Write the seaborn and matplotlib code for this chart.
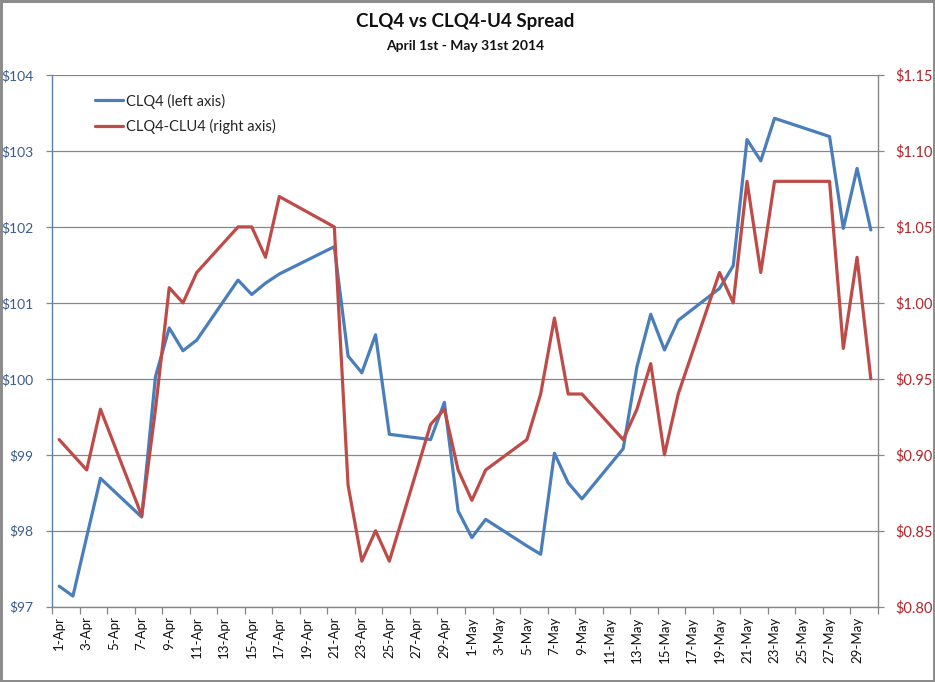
import matplotlib
matplotlib.use("Agg")
import matplotlib.pyplot as plt
import numpy as np
import pandas as pd
import seaborn as sns

# trading days, Apr 1 - May 30 2014
dates = [
    "2014-04-01", "2014-04-02", "2014-04-03", "2014-04-04", "2014-04-07",
    "2014-04-08", "2014-04-09", "2014-04-10", "2014-04-11", "2014-04-14",
    "2014-04-15", "2014-04-16", "2014-04-17", "2014-04-21", "2014-04-22",
    "2014-04-23", "2014-04-24", "2014-04-25", "2014-04-28", "2014-04-29",
    "2014-04-30", "2014-05-01", "2014-05-02", "2014-05-05", "2014-05-06",
    "2014-05-07", "2014-05-08", "2014-05-09", "2014-05-12", "2014-05-13",
    "2014-05-14", "2014-05-15", "2014-05-16", "2014-05-19", "2014-05-20",
    "2014-05-21", "2014-05-22", "2014-05-23", "2014-05-27", "2014-05-28",
    "2014-05-29", "2014-05-30",
]

clq4 = [
    97.27, 97.14, 97.92, 98.69, 98.18,
    100.03, 100.67, 100.37, 100.51, 101.30,
    101.11, 101.26, 101.38, 101.74, 100.30,
    100.08, 100.58, 99.27, 99.20, 99.69,
    98.26, 97.91, 98.15, 97.80, 97.69,
    99.02, 98.63, 98.42, 99.08, 100.16,
    100.85, 100.38, 100.77, 101.19, 101.49,
    103.15, 102.87, 103.43, 103.19, 101.98,
    102.77, 101.96,
]

spread = [
    0.91, 0.90, 0.89, 0.93, 0.86,
    0.93, 1.01, 1.00, 1.02, 1.05,
    1.05, 1.03, 1.07, 1.05, 0.88,
    0.83, 0.85, 0.83, 0.92, 0.93,
    0.89, 0.87, 0.89, 0.91, 0.94,
    0.99, 0.94, 0.94, 0.91, 0.93,
    0.96, 0.90, 0.94, 1.02, 1.00,
    1.08, 1.02, 1.08, 1.08, 0.97,
    1.03, 0.95,
]

left_ticks = [97, 98, 99, 100, 101, 102, 103, 104]
right_ticks = [0.80, 0.85, 0.90, 0.95, 1.00, 1.05, 1.10, 1.15]

BLUE = "#4a7ebb"
RED = "#be4b48"
GRID = "#878787"

start = pd.Timestamp("2014-04-01")
end = pd.Timestamp("2014-05-30")
df = pd.DataFrame({"date": pd.to_datetime(dates), "clq4": clq4, "spread": spread})
df["day"] = (df["date"] - start).dt.days
n_days = (end - start).days + 1
label_dates = pd.date_range(start, end, freq="2D")
x_labels = [f"{d.day}-{d.strftime('%b')}" for d in label_dates]

sns.set_theme(style="white")
plt.rcParams["font.family"] = ["Lato", "DejaVu Sans"]

fig = plt.figure(figsize=(9.35, 6.82), dpi=100)
fig.patch.set_edgecolor("#8c8c8c")
fig.patch.set_linewidth(2.5)
ax = fig.add_axes([52.3 / 935, 1 - 606.7 / 682, (877.7 - 52.3) / 935, (606.7 - 75) / 682])
ax2 = ax.twinx()

sns.lineplot(data=df, x="day", y="clq4", ax=ax, color=BLUE, linewidth=2.3,
             label="CLQ4 (left axis)", legend=False)
sns.lineplot(data=df, x="day", y="spread", ax=ax2, color=RED, linewidth=2.3,
             label="CLQ4-CLU4 (right axis)", legend=False)

ax.set_xlim(-0.5, n_days - 0.5)
ax.set_ylim(97, 104)
ax2.set_ylim(0.80, 1.15)
ax.set_yticks(left_ticks)
ax.set_yticklabels([f"${v}" for v in left_ticks])
ax2.set_yticks(right_ticks)
ax2.set_yticklabels([f"${v:.2f}" for v in right_ticks])
ax.yaxis.grid(True, color=GRID, linewidth=0.9)
ax.set_axisbelow(True)

ax.set_xticks((label_dates - start).days)
ax.set_xticklabels(x_labels, rotation=90, fontsize=9.5, color="#111111")
ax.set_xticks(np.arange(-0.5, n_days, 2), minor=True)
ax.tick_params(axis="x", which="major", length=0, pad=7)
ax.tick_params(axis="x", which="minor", length=5, width=0.9, color=GRID, direction="out", bottom=True)
ax.tick_params(axis="y", length=4, width=0.9, color=GRID, direction="out", pad=9.5,
               labelsize=10, labelcolor="#3b5c8c", left=True)
ax2.tick_params(axis="y", length=4, width=0.9, color=GRID, direction="out", pad=9,
                labelsize=10.5, labelcolor="#b0262a", right=True)
ax.set_xlabel("")
ax.set_ylabel("")
ax2.set_ylabel("")

for a in (ax, ax2):
    for side in ("top", "left", "right", "bottom"):
        a.spines[side].set_visible(False)
ax.spines["left"].set_visible(True)
ax.spines["left"].set_color("#5a7fb0")
ax.spines["left"].set_linewidth(1.0)
ax.spines["bottom"].set_visible(True)
ax.spines["bottom"].set_color(GRID)
ax.spines["bottom"].set_linewidth(1.0)
ax2.spines["right"].set_visible(True)
ax2.spines["right"].set_color(GRID)
ax2.spines["right"].set_linewidth(1.0)

handles = ax.get_lines()[:1] + ax2.get_lines()[:1]
ax2.legend(handles, [h.get_label() for h in handles], loc="upper left",
           bbox_to_anchor=(0.036, 0.99), frameon=False, fontsize=10.5,
           handlelength=1.9, handletextpad=0.2, labelspacing=0.72)

fig.text(0.498, 1 - 22 / 682, "CLQ4 vs CLQ4-U4 Spread", ha="center", va="center",
         fontsize=13.5, fontweight="bold", color="#111111")
fig.text(0.498, 1 - 46 / 682, "April 1st - May 31st 2014", ha="center", va="center",
         fontsize=10, fontweight="bold", color="#111111")

fig.savefig("out.png", dpi=100)
